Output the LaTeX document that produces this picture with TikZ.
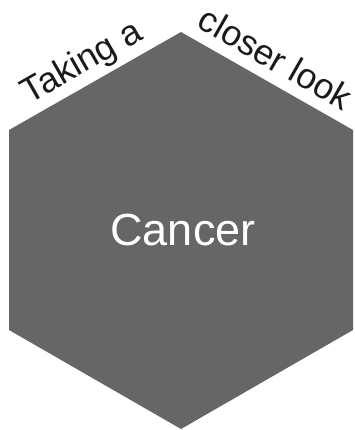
\documentclass[tikz,border=0pt]{standalone}
\usepackage{fontspec}
\setmainfont{Liberation Sans}
\definecolor{hexgray}{HTML}{666666}
\definecolor{labelink}{HTML}{1A1A1A}
\begin{document}
\begin{tikzpicture}[x=1pt,y=-1pt,
  hexfill/.style={fill=hexgray,draw=none},
  edgelabel/.style={font=\fontsize{35.5}{35.5}\selectfont, text=labelink, inner sep=0pt, anchor=base},
  centerlabel/.style={font=\fontsize{45}{45}\selectfont, text=white, inner sep=0pt, anchor=base}]
\useasboundingbox (0,0) rectangle (354,430);
\coordinate (top) at (181,32);
\coordinate (ur) at (353,130);
\coordinate (lr) at (353,330);
\coordinate (bot) at (181,429);
\coordinate (ll) at (9,330);
\coordinate (ul) at (9,130);
\fill[hexfill] (top) -- (ur) -- (lr) -- (bot) -- (ll) -- (ul) -- cycle;
\node[centerlabel] (cancer) at (183,245.7) {Cancer};
\node[edgelabel, rotate=29.7] (taking) at (87,71.5) {Taking a};
\node[edgelabel, rotate=-29.7] (closer) at (269.5,69) {closer look};
\end{tikzpicture}
\end{document}
